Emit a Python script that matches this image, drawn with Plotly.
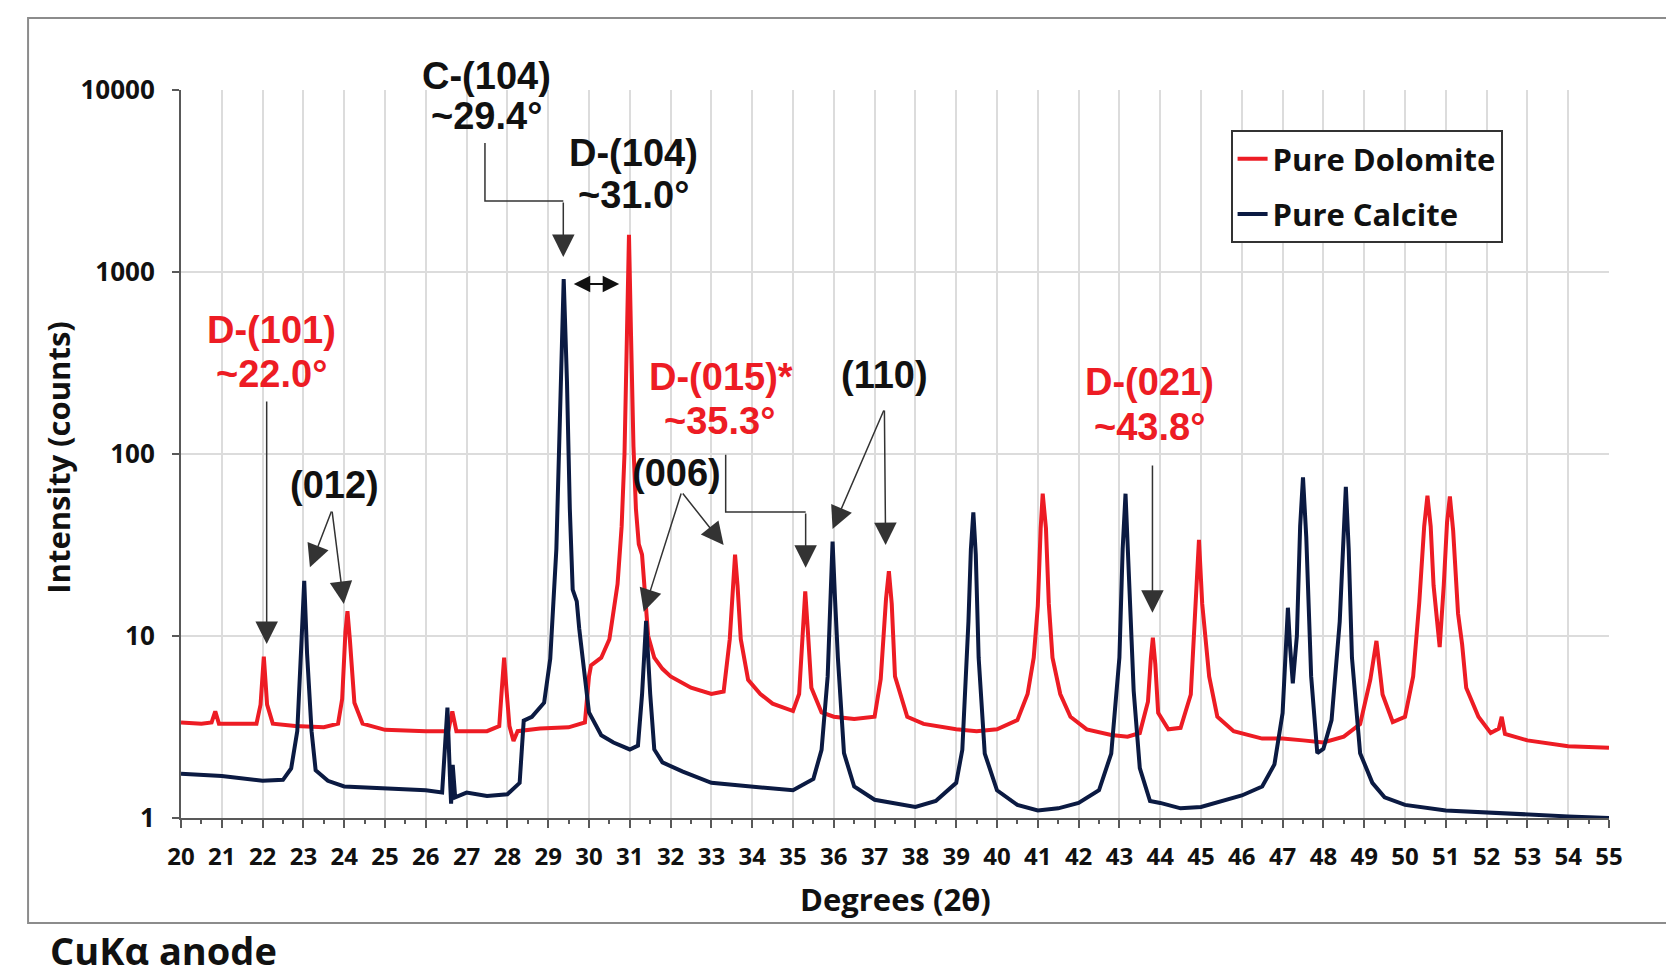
import math
import plotly.graph_objects as go

# ---------------- data ----------------
dol_x = [20.0, 20.5, 20.75, 20.84, 20.93, 21.5, 21.85, 21.95, 22.03, 22.11, 22.25, 22.8, 23.5, 23.85,
         23.95, 24.03, 24.08, 24.14, 24.25, 24.45, 25.0, 26.0, 26.55, 26.65, 26.75, 27.5, 27.8, 27.86,
         27.92, 27.98, 28.05, 28.15, 28.25, 28.8, 29.5, 29.9, 30.0, 30.05, 30.3, 30.5, 30.7, 30.8,
         30.87, 30.93, 30.98, 31.03, 31.09, 31.15, 31.22, 31.3, 31.37, 31.45, 31.6, 31.8, 32.0, 32.5,
         33.0, 33.3, 33.45, 33.53, 33.58, 33.64, 33.72, 33.9, 34.2, 34.5, 35.0, 35.15, 35.24, 35.3,
         35.36, 35.45, 35.7, 36.0, 36.5, 37.0, 37.15, 37.28, 37.35, 37.42, 37.5, 37.8, 38.2, 39.0,
         39.5, 40.0, 40.5, 40.75, 40.9, 41.0, 41.07, 41.12, 41.2, 41.27, 41.36, 41.55, 41.8, 42.2,
         42.8, 43.2, 43.5, 43.7, 43.77, 43.82, 43.88, 43.95, 44.2, 44.5, 44.75, 44.87, 44.95, 45.03,
         45.2, 45.4, 45.8, 46.5, 47.0, 47.5, 48.0, 48.5, 48.9, 49.15, 49.3, 49.45, 49.7, 50.0, 50.2,
         50.35, 50.47, 50.55, 50.63, 50.7, 50.85, 50.95, 51.03, 51.1, 51.18, 51.3, 51.4, 51.5, 51.8,
         52.1, 52.3, 52.37, 52.45, 53.0, 54.0, 55.0]
dol_y = [3.35, 3.3, 3.35, 3.85, 3.3, 3.3, 3.3, 4.2, 7.7, 4.2, 3.3, 3.2, 3.15, 3.3,
         4.5, 10.5, 13.7, 9.5, 4.3, 3.3, 3.05, 3.0, 3.0, 3.85, 3.0, 3.0, 3.2, 5.0,
         7.6, 5.0, 3.2, 2.65, 3.0, 3.1, 3.15, 3.35, 6.0, 6.9, 7.6, 9.6, 19.3, 40,
         100, 450, 1600, 450, 110, 50, 32, 28, 16, 10, 7.6, 6.6, 6.0, 5.2,
         4.8, 4.95, 9.6, 20, 28, 19, 9.6, 5.75, 4.8, 4.25, 3.87, 4.8, 11, 17.6,
         11, 5.2, 3.8, 3.6, 3.5, 3.6, 5.8, 16, 22.7, 15, 6.0, 3.6, 3.29, 3.07,
         3.0, 3.07, 3.45, 4.8, 7.6, 14.6, 39, 60.5, 39, 15, 7.6, 4.8, 3.6, 3.07,
         2.86, 2.8, 2.93, 4.35, 7.5, 9.8, 7.0, 3.78, 3.07, 3.13, 4.77, 15, 33.7, 15,
         6.0, 3.6, 3.0, 2.73, 2.73, 2.67, 2.6, 2.8, 3.28, 5.75, 9.4, 4.77, 3.37, 3.6, 6.0,
         15.3, 40, 59, 40, 19, 8.7, 19, 42, 58.5, 38, 13.3, 9, 5.2, 3.6,
         2.93, 3.1, 3.6, 2.9, 2.67, 2.48, 2.43]

cal_x = [20.0, 21.0, 22.0, 22.5, 22.7, 22.85, 22.95, 23.02, 23.09, 23.2, 23.3, 23.6, 24.0, 25.0,
         26.0, 26.4, 26.47, 26.53, 26.6, 26.62, 26.66, 26.72, 27.0, 27.5, 28.0, 28.3, 28.4, 28.6,
         28.9, 29.05, 29.2, 29.3, 29.38, 29.46, 29.53, 29.6, 29.7, 29.76, 29.9, 30.0, 30.3, 30.6,
         31.0, 31.2, 31.3, 31.4, 31.5, 31.6, 31.8, 32.3, 33.0, 34.0, 35.0, 35.5, 35.7, 35.85, 35.92,
         35.97, 36.03, 36.1, 36.25, 36.5, 37.0, 37.5, 38.0, 38.5, 39.0, 39.15, 39.3, 39.36, 39.42,
         39.48, 39.55, 39.7, 40.0, 40.5, 41.0, 41.5, 42.0, 42.5, 42.8, 43.0, 43.08, 43.15, 43.22,
         43.35, 43.5, 43.75, 44.0, 44.5, 45.0, 45.5, 46.0, 46.5, 46.8, 47.0, 47.08, 47.13, 47.18,
         47.25, 47.35, 47.43, 47.5, 47.58, 47.7, 47.85, 48.0, 48.2, 48.4, 48.48, 48.55, 48.62, 48.7,
         48.9, 49.2, 49.5, 50.0, 51.0, 52.0, 53.0, 54.0, 55.0]
cal_y = [1.75, 1.7, 1.6, 1.62, 1.87, 3.0, 9, 20.1, 8, 3.0, 1.83, 1.6, 1.49, 1.45,
         1.42, 1.38, 2.5, 4.04, 1.5, 1.2, 1.96, 1.3, 1.38, 1.32, 1.35, 1.56, 3.43, 3.6,
         4.3, 7.5, 30, 250, 916, 250, 50, 18, 15.5, 11, 6, 3.8, 2.85, 2.6,
         2.38, 2.5, 4.77, 12.1, 4.8, 2.38, 2.02, 1.8, 1.56, 1.49, 1.42, 1.64, 2.37, 6.0, 18,
         33, 16, 7.6, 2.27, 1.49, 1.26, 1.21, 1.15, 1.24, 1.56, 2.37, 12, 30, 47.8,
         28, 7.6, 2.26, 1.42, 1.18, 1.1, 1.13, 1.21, 1.42, 2.26, 7.6, 30, 60.5, 25,
         5.0, 1.88, 1.24, 1.21, 1.13, 1.15, 1.24, 1.33, 1.49, 1.97, 3.77, 10, 14.3, 9,
         5.5, 10, 40, 74.5, 35, 6.0, 2.27, 2.4, 3.45, 12, 35, 66, 30, 7.6,
         2.27, 1.56, 1.3, 1.18, 1.1, 1.07, 1.05, 1.02, 1.0]

x_ticks = list(range(20, 56))
y_ticks = [1, 10, 100, 1000, 10000]
y_tick_text = ["1", "10", "100", "1000", "10000"]
Y_DECADES = 4  # log axis spans 10^0 .. 10^4

# peak labels: text, x (deg), y (counts), colour key
label_text = ["C-(104)", "~29.4°", "D-(104)", "~31.0°", "D-(101)", "~22.0°", "(012)",
              "D-(015)*", "~35.3°", "(006)", "(110)", "D-(021)", "~43.8°"]
label_x = [27.49, 27.49, 31.09, 31.09, 22.23, 22.23, 23.75, 33.23, 33.20, 32.15, 37.24, 43.73, 43.73]
label_y = [11940, 7200, 4510, 2650, 480, 275, 67.6, 265, 152, 78.7, 272, 249, 141]
label_col = ["k", "k", "k", "k", "r", "r", "k", "r", "r", "k", "k", "r", "r"]

# leader arrows: tail (x, y) -> tip (x, y)
arrow_tail_x = [29.37, 22.10, 23.70, 23.70, 35.31, 32.27, 32.27, 37.24, 37.24, 43.81]
arrow_tail_y = [2455, 198, 49.2, 49.2, 48.0, 61.8, 61.8, 176.6, 176.6, 88.1]
arrow_tip_x = [29.37, 22.10, 23.16, 23.99, 35.31, 31.34, 33.30, 35.97, 37.27, 43.81]
arrow_tip_y = [1208, 9.04, 23.9, 15.0, 23.7, 13.6, 31.6, 38.7, 31.6, 13.4]

# elbow leader segments (before the final arrow)
elbow_c104_x = [27.45, 27.45, 29.37]
elbow_c104_y = [5115, 2455, 2455]
elbow_d015_x = [33.35, 33.35, 35.31]
elbow_d015_y = [98.9, 48.0, 48.0]

# double-headed arrow between C-(104) and D-(104)
dbl_x = [29.59, 30.74]
dbl_y = 859

RED = "#ED1C24"
NAVY = "#0B1A42"
LEAD = "#333333"
FONT = "Open Sans"
ANN_FONT = "Liberation Sans"

fig = go.Figure()
fig.add_trace(go.Scatter(x=dol_x, y=dol_y, mode="lines", name="Pure Dolomite",
                         legendgroup="dol", line=dict(color=RED, width=4)))
fig.add_trace(go.Scatter(x=cal_x, y=cal_y, mode="lines", name="Pure Calcite",
                         legendgroup="cal", line=dict(color=NAVY, width=4)))
for ex, ey in [(elbow_c104_x, elbow_c104_y), (elbow_d015_x, elbow_d015_y)]:
    fig.add_trace(go.Scatter(x=ex, y=ey, mode="lines", showlegend=False, hoverinfo="skip",
                             line=dict(color=LEAD, width=1.5)))

annotations = []
for t, x, y, c in zip(label_text, label_x, label_y, label_col):
    annotations.append(dict(x=x, y=math.log10(y) / Y_DECADES, xref="x", yref="paper", text=t,
                            showarrow=False, xanchor="center", yanchor="middle",
                            font=dict(family=ANN_FONT, size=38, weight="bold",
                                      color=RED if c == "r" else "#111111")))
for tx, ty, hx, hy in zip(arrow_tail_x, arrow_tail_y, arrow_tip_x, arrow_tip_y):
    annotations.append(dict(x=hx, y=math.log10(hy), ax=tx, ay=math.log10(ty), xref="x", yref="y",
                            axref="x", ayref="y", text="", showarrow=True, arrowhead=2,
                            arrowsize=3.0, arrowwidth=1.5, arrowcolor=LEAD, standoff=0))
annotations.append(dict(x=dbl_x[1], y=math.log10(dbl_y), ax=dbl_x[0], ay=math.log10(dbl_y),
                        xref="x", yref="y", axref="x", ayref="y", text="", showarrow=True,
                        arrowhead=2, startarrowhead=2, arrowside="end+start", arrowsize=1.5,
                        startarrowsize=1.5, arrowwidth=2.2, arrowcolor="#111111",
                        standoff=0, startstandoff=0))
# axis titles and note
annotations.append(dict(x=0.5, y=-0.111, xref="paper", yref="paper", text="Degrees (2θ)",
                        showarrow=False, xanchor="center", yanchor="middle",
                        font=dict(family=FONT, size=31, weight="bold", color="#111111")))
annotations.append(dict(x=-0.0861, y=0.495, xref="paper", yref="paper", text="Intensity (counts)",
                        showarrow=False, textangle=-90, xanchor="center", yanchor="middle",
                        font=dict(family=FONT, size=31, weight="bold", color="#111111")))
annotations.append(dict(x=-0.0931, y=-0.182, xref="paper", yref="paper", text="CuKα anode",
                        showarrow=False, xanchor="left", yanchor="middle",
                        font=dict(family=FONT, size=38, weight="bold", color="#111111")))

fig.update_layout(
    width=1666, height=969,
    margin=dict(l=173, r=65, t=82, b=159),
    paper_bgcolor="white", plot_bgcolor="white",
    font=dict(family=FONT, color="#111111"),
    annotations=annotations,
    shapes=[dict(type="rect", xref="paper", yref="paper", x0=-0.1071, x1=1.0413, y0=-0.1442,
                 y1=1.0989, line=dict(color="#8c8c8c", width=2), layer="below")],
    legend=dict(x=0.735, y=0.945, xanchor="left", yanchor="top", bgcolor="white",
                bordercolor="#333333", borderwidth=2, tracegroupgap=12,
                font=dict(family=FONT, size=31, weight="bold", color="#111111")),
    xaxis=dict(range=[20, 55], tickvals=x_ticks, showgrid=True, gridcolor="#dcdcdc", gridwidth=1.5,
               showline=True, linecolor="#595959", linewidth=2, zeroline=False,
               ticks="outside", ticklen=8, tickwidth=1.5, tickcolor="#595959",
               minor=dict(dtick=0.5, tick0=20, ticks="outside", ticklen=4, tickwidth=1.5,
                          tickcolor="#595959", showgrid=False),
               tickfont=dict(family=FONT, size=24, weight="bold", color="#111111"),
               ticklabelstandoff=8),
    yaxis=dict(type="log", range=[0, 4], tickvals=y_ticks, ticktext=y_tick_text, showgrid=True,
               gridcolor="#dcdcdc", gridwidth=1.5, showline=True, linecolor="#595959", linewidth=2,
               zeroline=False, ticks="outside", ticklen=7, tickwidth=1.5, tickcolor="#595959",
               tickfont=dict(family=FONT, size=26, weight="bold", color="#111111"),
               ticklabelstandoff=12),
)

fig.write_html("out.html")
